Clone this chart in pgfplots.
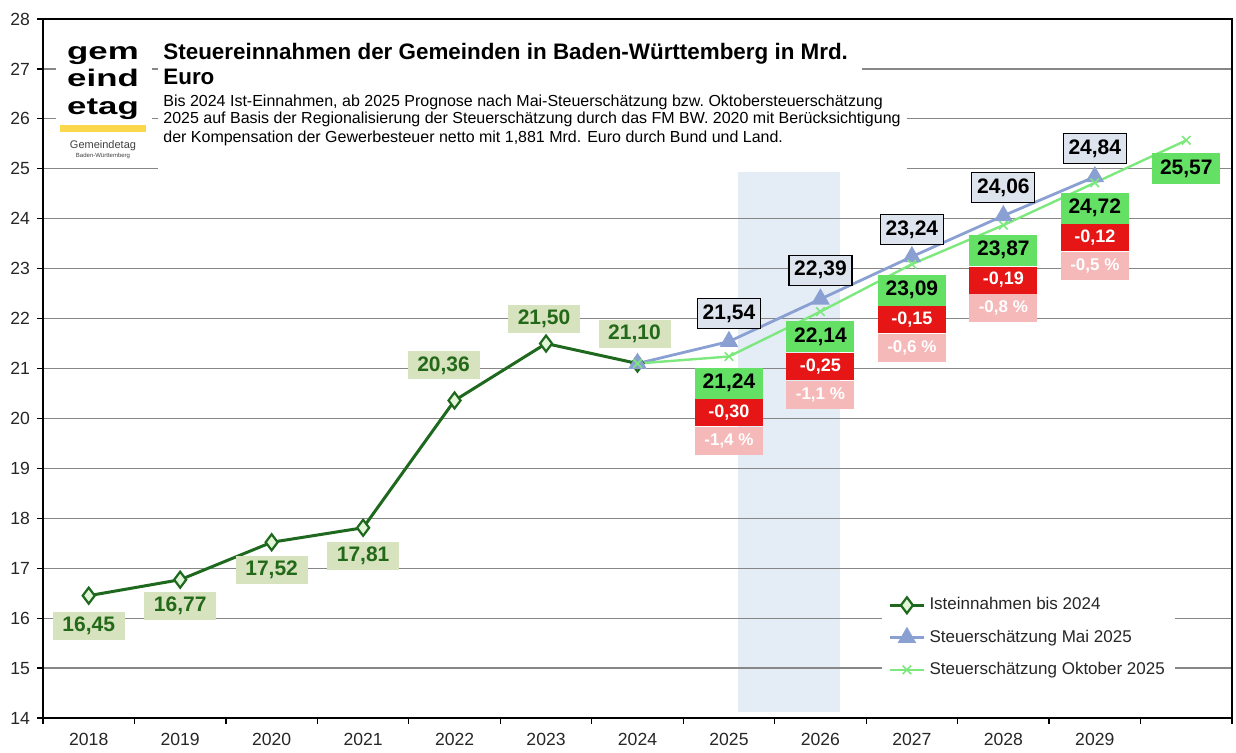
\documentclass[border=0pt]{standalone}
\usepackage{fontspec}
\setmainfont{Liberation Sans}
\usepackage{graphicx}
\usepackage{pgfplots}
\pgfplotsset{compat=1.18}
\definecolor{istgreen}{RGB}{30,105,30}
\definecolor{istmark}{RGB}{225,245,215}
\definecolor{istfill}{RGB}{214,227,190}
\definecolor{isttext}{RGB}{35,105,25}
\definecolor{maiblue}{RGB}{138,160,210}
\definecolor{maifill}{RGB}{222,228,238}
\definecolor{oktgreen}{RGB}{125,232,125}
\definecolor{oktfill}{RGB}{100,225,100}
\definecolor{redbox}{RGB}{230,22,22}
\definecolor{pinkbox}{RGB}{245,185,185}
\definecolor{shadebg}{RGB}{228,236,246}
\definecolor{gridgray}{RGB}{135,135,135}
\definecolor{logoyellow}{RGB}{250,215,75}
\tikzset{
 istlab/.style={fill=istfill, text=isttext, font=\bfseries\fontsize{10.5}{12}\selectfont, minimum width=36pt, minimum height=14pt, inner sep=1pt},
 mailab/.style={fill=maifill, draw=black, line width=0.6pt, text=black, font=\bfseries\fontsize{10.5}{12}\selectfont, minimum width=31.5pt, minimum height=15pt, inner sep=1pt},
 oktlab/.style={fill=oktfill, text=black, font=\bfseries\fontsize{10.5}{12}\selectfont, minimum width=34pt, minimum height=15.5pt, inner sep=1pt},
 redlab/.style={fill=redbox, text=white, font=\bfseries\fontsize{9}{10}\selectfont, minimum width=34pt, minimum height=13.5pt, inner sep=1pt},
 pinklab/.style={fill=pinkbox, text=white, font=\bfseries\fontsize{8.5}{10}\selectfont, minimum width=34pt, minimum height=14pt, inner sep=1pt},
 logotxt/.style={anchor=base, inner sep=0, font=\bfseries\fontsize{12}{12}\selectfont},
}
\begin{document}
\begin{tikzpicture}
\begin{scope}[x=0.5pt,y=-0.5pt]
\useasboundingbox (0,0) rectangle (1236,747);
\end{scope}
\begin{axis}[
 set layers,
 at={(21.5pt,-359pt)}, anchor=south west,
 scale only axis, width=594.5pt, height=349.5pt,
 xmin=-0.5, xmax=12.5, ymin=14, ymax=28,
 xtick={-0.5,0.5,...,12.5},
 xticklabels={2018,2019,2020,2021,2022,2023,2024,2025,2026,2027,2028,2029,{}},
 x tick label as interval,
 ytick={14,15,...,28},
 xtick pos=lower, ytick pos=left,
 ymajorgrids, grid style={gridgray, line width=0.6pt},
 axis line style={black, line width=1pt},
 tick align=outside, major tick length=3pt,
 tick style={black, line width=0.6pt},
 ticklabel style={font=\fontsize{8.8}{10}\selectfont, text=black!85},
 xticklabel style={yshift=-1pt},
 /pgf/number format/assume math mode=true,
 clip=false,
 legend cell align=left,
 legend style={at={(0.7056,0.19)}, anchor=north west, draw=none, fill=white,
   font=\fontsize{8.5}{10}\selectfont, text=black!85, row sep=4.5pt, inner xsep=3pt, inner ysep=4pt},
]
\begin{pgfonlayer}{axis background}
\fill[shadebg] (axis cs:7.1,14.12) rectangle (axis cs:8.21,24.94);
\end{pgfonlayer}

\addplot[istgreen, line width=1.5pt, mark=diamond*, mark size=4pt, mark options={fill=istmark, line width=1.1pt}]
 coordinates {(0,16.45)(1,16.77)(2,17.52)(3,17.81)(4,20.36)(5,21.50)(6,21.10)};
\addlegendentry{Isteinnahmen bis 2024}
\addplot[maiblue, line width=1.4pt, mark=triangle*, mark size=4pt]
 coordinates {(6,21.10)(7,21.54)(8,22.39)(9,23.24)(10,24.06)(11,24.84)};
\addlegendentry{Steuerschätzung Mai 2025}
\addplot[oktgreen, line width=1.2pt, mark=x, mark size=3pt, mark options={line width=0.8pt}]
 coordinates {(6,21.10)(7,21.24)(8,22.14)(9,23.09)(10,23.87)(11,24.72)(12,25.57)};
\addlegendentry{Steuerschätzung Oktober 2025}

% Ist labels
\node[istlab, yshift=-15pt] at (axis cs:0,16.45) {16,45};
\node[istlab, yshift=-13pt] at (axis cs:1,16.77) {16,77};
\node[istlab, yshift=-14pt] at (axis cs:2,17.52) {17,52};
\node[istlab, yshift=-14pt] at (axis cs:3,17.81) {17,81};
\node[istlab, xshift=-5.5pt, yshift=17.5pt] at (axis cs:4,20.36) {20,36};
\node[istlab, xshift=-1pt, yshift=12.5pt] at (axis cs:5,21.50) {21,50};
\node[istlab, xshift=-1.5pt, yshift=15pt] at (axis cs:6,21.10) {21,10};

% Mai labels
\node[mailab, yshift=14pt] at (axis cs:7,21.54) {21,54};
\node[mailab, yshift=14.5pt] at (axis cs:8,22.39) {22,39};
\node[mailab, yshift=13.5pt] at (axis cs:9,23.24) {23,24};
\node[mailab, yshift=14pt] at (axis cs:10,24.06) {24,06};
\node[mailab, yshift=14pt] at (axis cs:11,24.84) {24,84};

% Oktober labels
\node[oktlab, yshift=-13.3pt] (o7) at (axis cs:7,21.24) {21,24};
\node[redlab, anchor=north] (r7) at (o7.south) {-0,30};
\node[pinklab, anchor=north] at (r7.south) {-1,4 \%};
\node[oktlab, yshift=-12.7pt] (o8) at (axis cs:8,22.14) {22,14};
\node[redlab, anchor=north] (r8) at (o8.south) {-0,25};
\node[pinklab, anchor=north] at (r8.south) {-1,1 \%};
\node[oktlab, yshift=-13pt] (o9) at (axis cs:9,23.09) {23,09};
\node[redlab, anchor=north] (r9) at (o9.south) {-0,15};
\node[pinklab, anchor=north] at (r9.south) {-0,6 \%};
\node[oktlab, yshift=-12.5pt] (o10) at (axis cs:10,23.87) {23,87};
\node[redlab, anchor=north] (r10) at (o10.south) {-0,19};
\node[pinklab, anchor=north] at (r10.south) {-0,8 \%};
\node[oktlab, yshift=-12.7pt] (o11) at (axis cs:11,24.72) {24,72};
\node[redlab, anchor=north] (r11) at (o11.south) {-0,12};
\node[pinklab, anchor=north] at (r11.south) {-0,5 \%};
\node[oktlab, yshift=-14pt] at (axis cs:12,25.57) {25,57};
\end{axis}

\begin{scope}[x=0.5pt,y=-0.5pt]
% white boxes behind title and logo
\fill[white] (158,32) rectangle (862,92);
\fill[white] (158,92) rectangle (907,172);
\fill[white] (56,30) rectangle (152,163);
% logo
\node[logotxt] at (103,60) {\scalebox{1.45}[1]{gem}};
\node[logotxt] at (103,87) {\scalebox{1.45}[1]{eind}};
\node[logotxt] at (103,114) {\scalebox{1.45}[1]{etag}};
\fill[logoyellow] (60,125) rectangle (146,132);
\node[inner sep=0, font=\fontsize{5.5}{6}\selectfont, text=black!75] at (103,146) {Gemeindetag};
\node[inner sep=0, font=\fontsize{3}{3.5}\selectfont, text=black!75] at (103,156) {Baden-Württemberg};
% title
\node[anchor=base west, inner sep=0, font=\bfseries\fontsize{11.2}{12}\selectfont] at (163,60) {Steuereinnahmen der Gemeinden in Baden-Württemberg in Mrd.};
\node[anchor=base west, inner sep=0, font=\bfseries\fontsize{11.2}{12}\selectfont] at (163,85) {Euro};
\node[anchor=base west, inner sep=0, font=\fontsize{8}{9}\selectfont] at (163,106) {Bis 2024 Ist-Einnahmen, ab 2025 Prognose nach Mai-Steuerschätzung bzw.\ Oktobersteuerschätzung};
\node[anchor=base west, inner sep=0, font=\fontsize{8}{9}\selectfont] at (163,124) {2025 auf Basis der Regionalisierung der Steuerschätzung durch das FM BW. 2020 mit Berücksichtigung};
\node[anchor=base west, inner sep=0, font=\fontsize{8}{9}\selectfont] at (163,142) {der Kompensation der Gewerbesteuer netto mit 1,881 Mrd. Euro durch Bund und Land.};
\end{scope}
\end{tikzpicture}
\end{document}
